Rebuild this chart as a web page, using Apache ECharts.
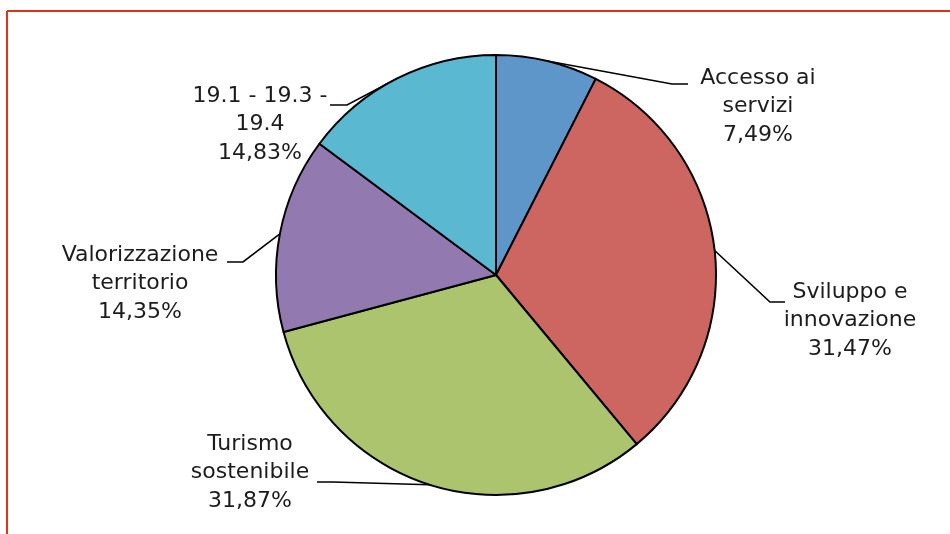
<!DOCTYPE html>
<html>
<head>
<meta charset="utf-8">
<script src="https://cdn.jsdelivr.net/npm/echarts@6/dist/echarts.min.js"></script>
<style>
  html, body { margin: 0; padding: 0; background: #ffffff; }
  #chart { width: 950px; height: 534px; }
</style>
</head>
<body>
<div id="chart"></div>
<script>
// ---- Data ----
const categories = ['Accesso ai\nservizi', 'Sviluppo e\ninnovazione', 'Turismo\nsostenibile', 'Valorizzazione\nterritorio', '19.1 - 19.3 -\n19.4'];
const values = [7.49, 31.47, 31.87, 14.35, 14.83];
const valueLabels = ['7,49%', '31,47%', '31,87%', '14,35%', '14,83%'];

// ---- Styles / layout (not data) ----
const colors = ['#5F96CA', '#CD6660', '#ABC46D', '#927AB1', '#5AB8D1'];
// label text: centre x, top y; leader line: bend point and end point
const labelPlacement = [
  { cx: 758, top: 64,  bend: [672, 84],  end: [688, 84] },
  { cx: 850, top: 278, bend: [770, 302], end: [785, 302] },
  { cx: 250, top: 430, bend: [333, 482], end: [317, 482] },
  { cx: 140, top: 241, bend: [243, 262], end: [227, 262] },
  { cx: 260, top: 82,  bend: [347, 105], end: [330, 105] }
];

const chart = echarts.init(document.getElementById('chart'));
const option = {
  backgroundColor: '#ffffff',
  animation: false,
  graphic: [
    { type: 'line', shape: { x1: 7, y1: 11, x2: 950, y2: 11 }, style: { stroke: '#E3301C', lineWidth: 2 } },
    { type: 'line', shape: { x1: 7, y1: 11, x2: 7, y2: 534 }, style: { stroke: '#E3301C', lineWidth: 2 } }
  ],
  series: [{
    type: 'pie',
    center: [496, 275],
    radius: 220,
    startAngle: 90,
    clockwise: true,
    avoidLabelOverlap: false,
    itemStyle: { borderColor: '#000000', borderWidth: 2 },
    label: {
      show: true,
      position: 'outside',
      fontFamily: 'DejaVu Sans',
      fontSize: 22,
      lineHeight: 28.5,
      color: '#1c1c1c',
      formatter: function (p) { return categories[p.dataIndex] + '\n' + valueLabels[p.dataIndex]; }
    },
    labelLine: {
      show: true,
      length: 20,
      length2: 15,
      smooth: false,
      lineStyle: { color: '#000000', width: 1.6 }
    },
    emphasis: { disabled: true },
    labelLayout: function (params) {
      const lp = labelPlacement[params.dataIndex];
      const start = params.labelLinePoints ? params.labelLinePoints[0] : lp.bend;
      return {
        x: lp.cx,
        y: lp.top,
        align: 'center',
        verticalAlign: 'top',
        labelLinePoints: [start, lp.bend, lp.end]
      };
    },
    data: values.map(function (v, i) {
      return { name: categories[i], value: v, itemStyle: { color: colors[i] } };
    })
  }]
};
chart.setOption(option);
</script>
</body>
</html>
